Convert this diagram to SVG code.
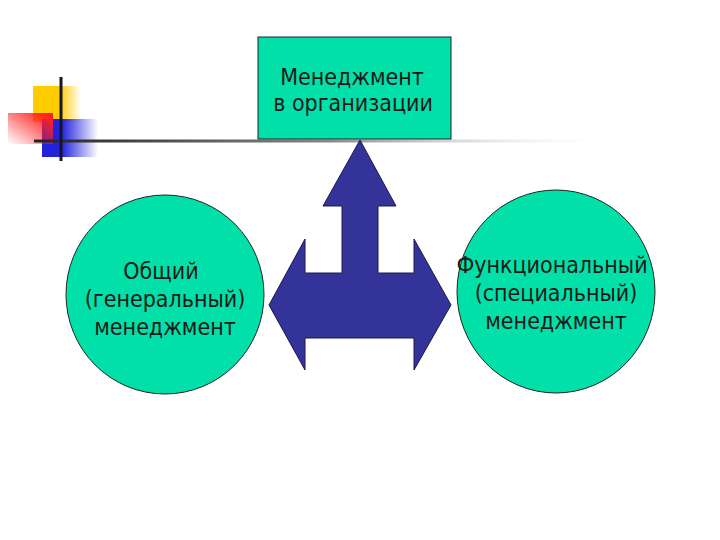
<svg xmlns="http://www.w3.org/2000/svg" width="720" height="540" viewBox="0 0 720 540">
<style>
.node{fill:#00E0A8;stroke:#222;stroke-width:1}
.lbl{font-family:"DejaVu Sans Condensed","DejaVu Sans",Tahoma,sans-serif;font-stretch:condensed;font-size:23px;fill:#1a1a1a;text-anchor:middle}
.arrow{fill:#333399;stroke:#1a1a4d;stroke-width:1}
</style>
<defs>
<linearGradient id="gy" x1="0" y1="0" x2="1" y2="0"><stop offset="0.55" stop-color="#FFCC00"/><stop offset="1" stop-color="#FFCC00" stop-opacity="0"/></linearGradient>
<linearGradient id="gr" x1="1" y1="0" x2="0" y2="1"><stop offset="0.1" stop-color="#FF2020"/><stop offset="1" stop-color="#FF2020" stop-opacity="0"/></linearGradient>
<linearGradient id="gb" x1="0" y1="0" x2="1" y2="0"><stop offset="0.35" stop-color="#2222DD"/><stop offset="1" stop-color="#2222DD" stop-opacity="0"/></linearGradient>
<linearGradient id="gl" x1="0" y1="0" x2="1" y2="0"><stop offset="0" stop-color="#222"/><stop offset="0.5" stop-color="#888"/><stop offset="1" stop-color="#fff" stop-opacity="0"/></linearGradient>
</defs>
<g id="decor">
<rect x="33" y="86" width="48" height="36" fill="url(#gy)"/>
<rect x="42" y="119" width="56" height="38" fill="url(#gb)"/>
<rect x="8" y="113" width="45" height="31" fill="url(#gr)"/>
<rect x="34" y="139.5" width="590" height="3" fill="url(#gl)"/>
<rect x="59.5" y="77" width="3" height="84" fill="#14142a"/>
</g>
<g id="connectors">
<path class="arrow" d="M360,140 L396,206 L378,206 L378,273 L414,273 L414,239 L451,305 L414,370 L414,338 L305,338 L305,370 L269,305 L305,239 L305,273 L342,273 L342,206 L323,206 Z"/>
</g>
<g id="top">
<rect class="node" x="258" y="37" width="193" height="102"/>
<text class="lbl" x="352" y="85">Менеджмент</text>
<text class="lbl" x="353" y="111">в организации</text>
</g>
<g id="left">
<ellipse class="node" cx="165" cy="294.5" rx="99" ry="99.5"/>
<text class="lbl" x="161" y="279">Общий</text>
<text class="lbl" x="165" y="307">(генеральный)</text>
<text class="lbl" x="165" y="335">менеджмент</text>
</g>
<g id="right">
<ellipse class="node" cx="556" cy="291.5" rx="99" ry="101.5"/>
<text class="lbl" x="552" y="273">Функциональный</text>
<text class="lbl" x="556" y="301">(специальный)</text>
<text class="lbl" x="556" y="329">менеджмент</text>
</g>
</svg>
